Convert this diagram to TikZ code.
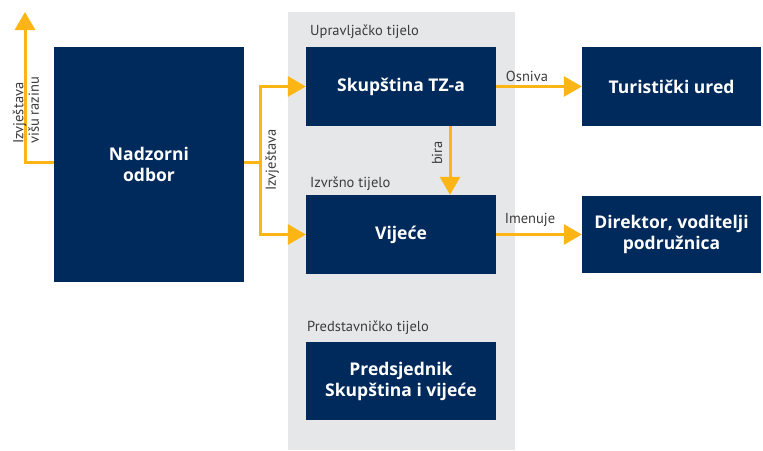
\documentclass[tikz,border=0pt]{standalone}
\usepackage{fontspec}
\setmainfont{PT Sans}
\newfontfamily\boxfont{Open Sans}
\usetikzlibrary{arrows.meta}
\definecolor{navy}{RGB}{0,42,92}
\definecolor{panel}{RGB}{230,231,232}
\definecolor{gold}{RGB}{252,181,20}
\definecolor{lbl}{RGB}{60,60,60}
\begin{document}
\begin{tikzpicture}[x=1pt,y=-1pt,
  box/.style={fill=navy,text=white,font=\boxfont\fontsize{17.5}{21}\selectfont\bfseries,align=center,inner sep=0pt},
  conn/.style={draw=gold,line width=3pt,-{Triangle[width=20pt,length=18pt]}},
  lab/.style={text=lbl,font=\fontsize{14.5}{15.5}\selectfont,inner sep=0pt}]
\useasboundingbox (0,0) rectangle (763,450);
\fill[panel] (288,12) rectangle (515,450);
% boxes
\node[box,minimum width=190pt,minimum height=235pt] (nad) at (149,164.5) {Nadzorni\\odbor};
\node[box,minimum width=190pt,minimum height=79pt] (sku) at (401,86.5) {Skupština TZ-a};
\node[box,minimum width=190pt,minimum height=79pt] (vij) at (401,234.5) {Vijeće};
\node[box,minimum width=190pt,minimum height=78pt] (pre) at (401,381) {Predsjednik\\Skupština i vijeće};
\node[box,minimum width=179pt,minimum height=79pt] (tur) at (671.5,86.5) {Turistički ured};
\node[box,minimum width=179pt,minimum height=77pt] (dir) at (671.5,234.5) {Direktor, voditelji\\podružnica};
% section labels
\node[lab,anchor=west] (l1) at (310,32) {Upravljačko tijelo};
\node[lab,anchor=west] (l2) at (310,184) {Izvršno tijelo};
\node[lab,anchor=west] (l3) at (307,328) {Predstavničko tijelo};
% connectors
\coordinate (top) at (25,12);
\draw[conn] (nad.west |- 0,162) -| (top);
\coordinate (split) at (260,162);
\draw[draw=gold,line width=3pt] (nad.east |- split) -- (split);
\draw[conn] (split) |- (sku.west);
\draw[conn] (split) |- (vij.west);
\draw[conn] (sku.south -| 450,0) -- (vij.north -| 450,0);
\draw[conn] (sku.east) -- (tur.west);
\draw[conn] (vij.east) -- (dir.west);
% connector labels
\node[lab,rotate=90,align=left,anchor=west] (izv1) at (26,144) {Izvještava\\višu razinu};
\node[lab,rotate=90] (izv2) at (272,160) {Izvještava};
\node[lab,rotate=90] (bira) at (437,153) {bira};
\node[lab] (osn) at (527,76) {Osniva};
\node[lab] (ime) at (530,220) {Imenuje};
\end{tikzpicture}
\end{document}
